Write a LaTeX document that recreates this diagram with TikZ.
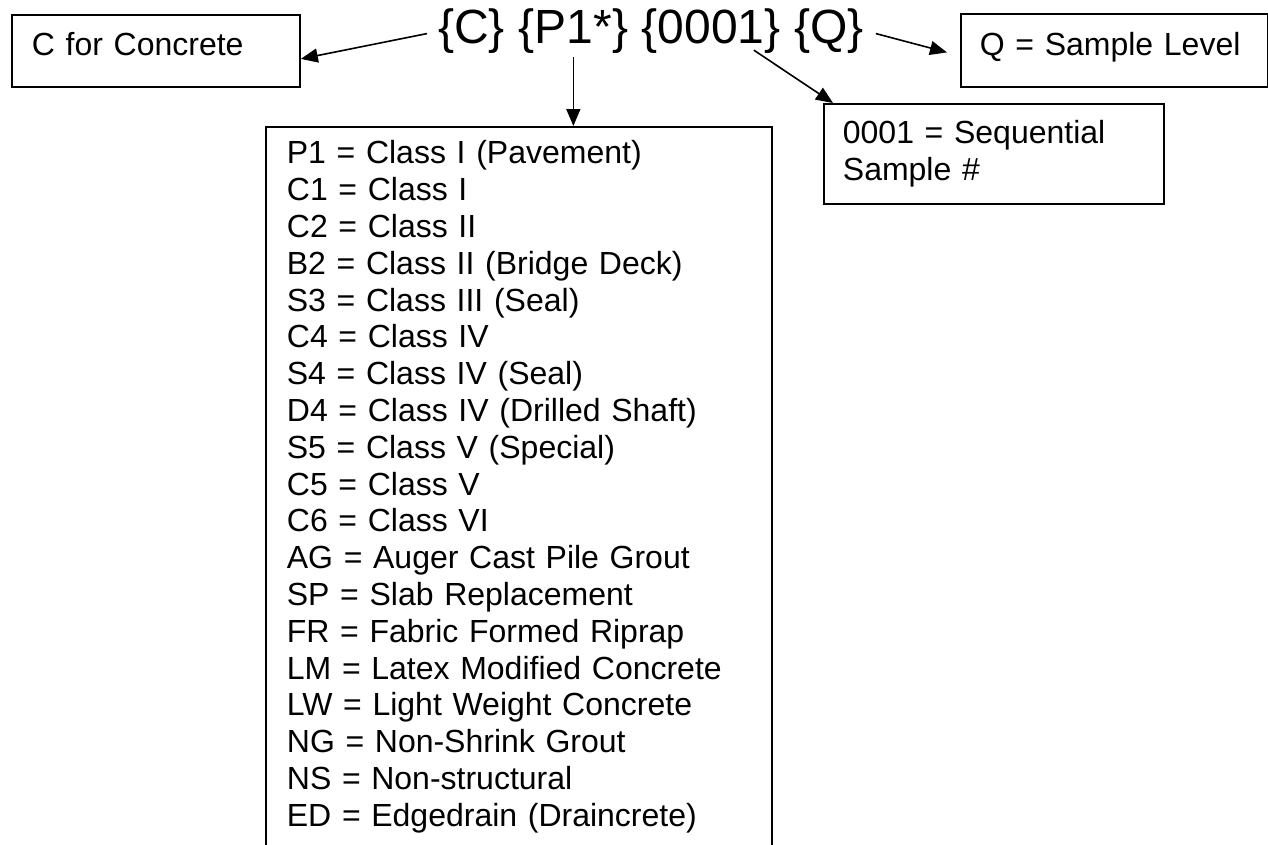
\documentclass[tikz,border=0pt]{standalone}
\usepackage{fontspec}
\setmainfont{Liberation Sans}
\usetikzlibrary{arrows.meta}
\usetikzlibrary{positioning}

\begin{document}
\begin{tikzpicture}[x=1pt,y=-1pt,
>={Triangle[length=17pt,width=14pt]},
every node/.style={font=\fontsize{32}{36.8}\selectfont},
code/.style={inner sep=0pt,font=\fontsize{48}{55}\selectfont},
ptr/.style={->,line width=1.6pt}]
\tikzstyle{tb} = [draw, line width=1.8pt, anchor=north west, inner ysep=0pt, align=left]

\useasboundingbox (0,0) rectangle (1268,844);
\clip (0,0) rectangle (1268,844);

% the sample id
\node[code,anchor=base west](cpart) at (438,43){\{C\}};
\node[code,right=13.3pt of cpart](ppart){\{P1*\}};
\node[code,right=13.3pt of ppart](npart){\{0001\}};
\node[code,right=13.3pt of npart](qpart){\{Q\}};

% what each part means
\node[tb,inner xsep=20pt,text width=248pt,text height=41pt,text depth=31pt](conc) at (11,14){C for Concrete};
\node[tb,inner xsep=19pt,text width=269pt,text height=42pt,text depth=31pt](level) at (960,13){Q = Sample Level};
\node[tb,inner xsep=19pt,text width=302pt,text height=40pt,text depth=60pt](seq) at (823,103){0001 = Sequential\\Sample \#};
\node[tb,inner xsep=21pt,text width=464pt,text height=37pt,text depth=900pt](list) at (265,126){%
P1 = Class I (Pavement)\\
C1 = Class I\\
C2 = Class II\\
B2 = Class II (Bridge Deck)\\
S3 = Class III (Seal)\\
C4 = Class IV\\
S4 = Class IV (Seal)\\
D4 = Class IV (Drilled Shaft)\\
S5 = Class V (Special)\\
C5 = Class V\\
C6 = Class VI\\
AG = Auger Cast Pile Grout\\
SP = Slab Replacement\\
FR = Fabric Formed Riprap\\
LM = Latex Modified Concrete\\
LW = Light Weight Concrete\\
NG = Non-Shrink Grout\\
NS = Non-structural\\
ED = Edgedrain (Draincrete)};

\draw[ptr] ([xshift=-11pt,yshift=-3pt]cpart.west) -- ([yshift=-8pt]conc.east);
\draw[ptr] ([yshift=-4pt]ppart.south) -- (ppart.south |- list.north);
\draw[ptr] ([xshift=-27pt,yshift=3pt]npart.south east) -- ([xshift=10pt]seq.north west);
\draw[ptr] ([xshift=12pt,yshift=-3pt]qpart.east) -- ([xshift=-13pt,yshift=-2pt]level.west);

\end{tikzpicture}
\end{document}
